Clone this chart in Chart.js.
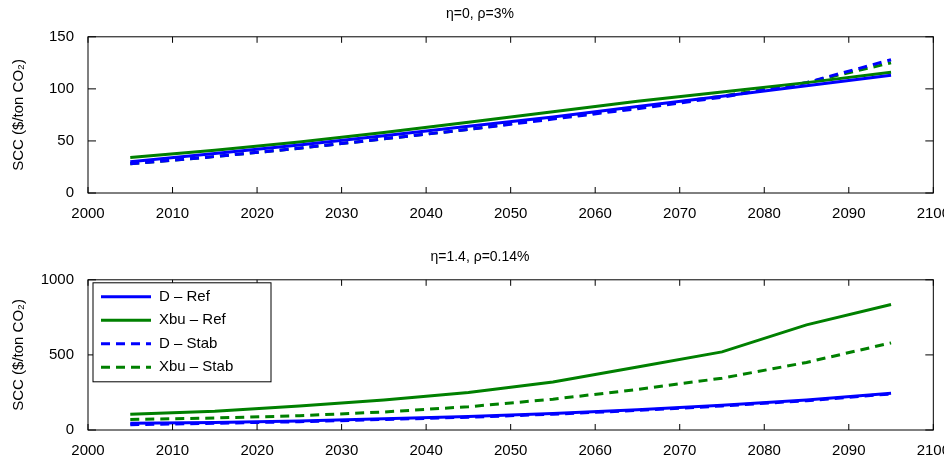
<!DOCTYPE html>
<html>
<head>
<meta charset="UTF-8">
<script src="https://cdn.jsdelivr.net/npm/chart.js"></script>
<style>
  body { margin: 0; background: #fff; width: 944px; height: 467px; overflow: hidden; position: relative; }
  .box { position: absolute; left: 0; width: 954px; height: 233px; }
</style>
</head>
<body>
<div class="box" style="top:0"><canvas id="c1"></canvas></div>
<div class="box" style="top:233px"><canvas id="c2"></canvas></div>
<script>
const years = [2005, 2015, 2025, 2035, 2045, 2055, 2065, 2075, 2085, 2095];
const seriesNames = ['D \u2013 Ref', 'Xbu \u2013 Ref', 'D \u2013 Stab', 'Xbu \u2013 Stab'];

// eta=0, rho=3%
const topDRef   = [30, 38, 46, 55, 64, 73, 83, 93, 103, 113];
const topXbuRef = [34, 41, 49, 58, 68, 78, 88, 97, 106, 116];
const topDStab  = [28, 35, 43, 52, 61, 71, 81, 92, 106, 128];
const topXbuStab= [28, 35, 43, 52, 61, 72, 82, 93, 106, 125];

// eta=1.4, rho=0.14%
const botDRef   = [45, 50, 60, 75, 90, 110, 135, 165, 200, 245];
const botXbuRef = [105, 125, 160, 200, 250, 320, 420, 520, 700, 835];
const botDStab  = [35, 45, 55, 70, 85, 105, 130, 160, 195, 240];
const botXbuStab= [70, 80, 95, 120, 155, 205, 270, 345, 450, 580];

const BLUE = '#0000ff', GREEN = '#008000';
const styles = [
  { color: BLUE, dash: [] }, { color: GREEN, dash: [] },
  { color: BLUE, dash: [9, 6] }, { color: GREEN, dash: [9, 6] }
];
const FONT = 'Liberation Sans, Arial, sans-serif';

function makeSets(arrs) {
  return arrs.map((a, i) => ({
    label: seriesNames[i],
    data: years.map((y, j) => ({ x: y, y: a[j] })),
    borderColor: styles[i].color, borderDash: styles[i].dash,
    borderWidth: 3, pointRadius: 0, fill: false, tension: 0
  }));
}

const frame = {
  id: 'frame',
  afterDatasetsDraw(chart) {
    const { ctx, chartArea: a, scales } = chart;
    ctx.save();
    ctx.strokeStyle = '#000'; ctx.lineWidth = 1;
    ctx.strokeRect(a.left, a.top, a.right - a.left, a.bottom - a.top);
    ctx.beginPath();
    scales.x.ticks.forEach(t => {
      const px = scales.x.getPixelForValue(t.value);
      ctx.moveTo(px, a.bottom); ctx.lineTo(px, a.bottom - 6);
      ctx.moveTo(px, a.top); ctx.lineTo(px, a.top + 6);
    });
    scales.y.ticks.forEach(t => {
      const py = scales.y.getPixelForValue(t.value);
      ctx.moveTo(a.left, py); ctx.lineTo(a.left + 8, py);
      ctx.moveTo(a.right, py); ctx.lineTo(a.right - 8, py);
    });
    ctx.stroke();
    ctx.restore();
  }
};

const legendBox = {
  id: 'legendBox',
  afterDraw(chart) {
    if (!chart.options.plugins.legendBox.show) return;
    const { ctx, chartArea: a } = chart;
    const x = a.left + 5, y = a.top + 3, w = 178, h = 99;
    ctx.save();
    ctx.fillStyle = '#fff'; ctx.fillRect(x, y, w, h);
    ctx.strokeStyle = '#000'; ctx.lineWidth = 1; ctx.strokeRect(x, y, w, h);
    ctx.font = '15px ' + FONT; ctx.textBaseline = 'middle'; ctx.fillStyle = '#000';
    seriesNames.forEach((n, i) => {
      const ly = y + 14 + i * 23.5;
      ctx.strokeStyle = styles[i].color; ctx.lineWidth = 3; ctx.setLineDash(styles[i].dash);
      ctx.beginPath(); ctx.moveTo(x + 8, ly); ctx.lineTo(x + 58, ly); ctx.stroke();
      ctx.setLineDash([]);
      ctx.fillText(n, x + 66, ly);
    });
    ctx.restore();
  }
};

function makeChart(id, title, arrs, yMax, yStep, showLegend, pad) {
  return new Chart(document.getElementById(id), {
    type: 'line',
    data: { datasets: makeSets(arrs) },
    plugins: [frame, legendBox],
    options: {
      responsive: true, maintainAspectRatio: false, animation: false,
      layout: { padding: pad },
      plugins: {
        legend: { display: false }, tooltip: { enabled: false },
        title: { display: true, text: title, color: '#000', font: { family: FONT, size: 14, weight: 'normal' }, padding: { top: 0, bottom: 14 } },
        legendBox: { show: showLegend }
      },
      scales: {
        x: {
          type: 'linear', min: 2000, max: 2100,
          ticks: { stepSize: 10, color: '#000', font: { family: FONT, size: 15 }, maxRotation: 0, padding: 4, callback: v => v },
          grid: { display: false }, border: { display: false }
        },
        y: {
          min: 0, max: yMax,
          ticks: { stepSize: yStep, color: '#000', font: { family: FONT, size: 15 }, padding: 6, callback: v => v },
          title: { display: true, text: 'SCC ($/ton CO\u2082)', color: '#000', font: { family: FONT, size: 15 }, padding: 2 },
          grid: { display: false }, border: { display: false },
          afterFit(s) { s.width = 80; }
        }
      }
    }
  });
}

makeChart('c1', '\u03b7=0, \u03c1=3%', [topDRef, topXbuRef, topDStab, topXbuStab], 150, 50, false,
  { left: 8, right: 2, top: 6, bottom: 6 });
makeChart('c2', '\u03b7=1.4, \u03c1=0.14%', [botDRef, botXbuRef, botDStab, botXbuStab], 1000, 500, true,
  { left: 8, right: 2, top: 16, bottom: 2 });
</script>
</body>
</html>
